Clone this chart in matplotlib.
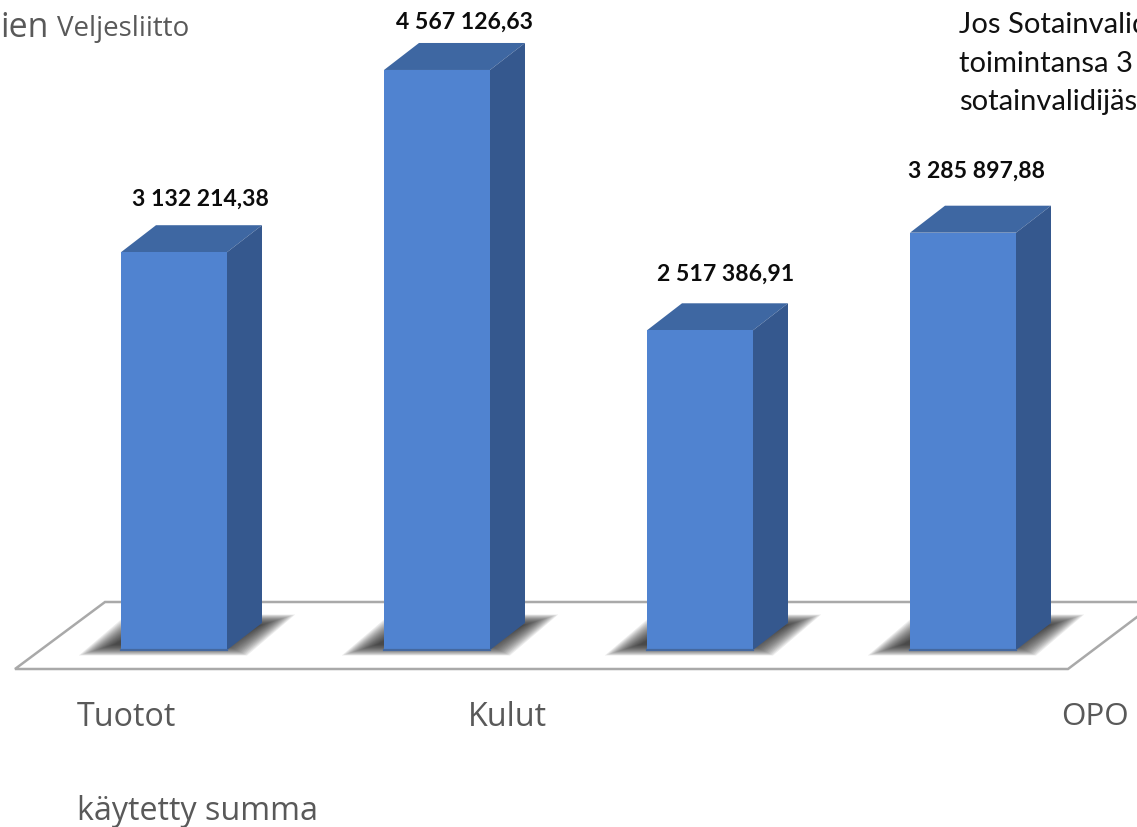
import matplotlib
matplotlib.use("Agg")
import matplotlib.pyplot as plt
from matplotlib.patches import Polygon

# --- data ---
bar_values = [3132214.38, 4567126.63, 2517386.91, 3285897.88]
value_labels = ["3 132 214,38", "4 567 126,63", "2 517 386,91", "3 285 897,88"]
axis_labels = ["Tuotot", "Kulut", "OPO"]
footer_label = "käytetty summa"
title_large = "ien"
title_small = "Veljesliitto"
note_lines = ["Jos Sotainvalid", "toimintansa 3", "sotainvalidijäs"]

# --- layout (pixels of the 1137x827 canvas) ---
W, H = 1137, 827
BASE_PX, PX_PER_VALUE = 650.0, 127.0e-6
FIRST_PX, STEP_PX, BAR_PX = 174.0, 263.0, 106.0
DX_PX, DY_PX = 35.0, 27.0
label_dx_px = [26, 27, 26, 13]
label_gap_px = [26, 21, 29, 34]

fig = plt.figure(figsize=(W / 100, H / 100), dpi=100, facecolor="white")
ax = fig.add_axes([0, 0, 1, 1])
ax.set_xlim(-FIRST_PX / STEP_PX, (W - FIRST_PX) / STEP_PX)
ax.set_ylim((BASE_PX - H) / PX_PER_VALUE, BASE_PX / PX_PER_VALUE)
ax.axis("off")

ux = 1.0 / STEP_PX            # one pixel in x data units
uy = 1.0 / PX_PER_VALUE       # one pixel in y data units
bar_w = BAR_PX * ux
dx, dy = DX_PX * ux, DY_PX * uy


def pt(i, off_x, off_y, v=0.0):
    """Point relative to bar i's base centre, offset in pixels (y upward)."""
    return (i + off_x * ux, v + off_y * uy)


# floor outline
fx = lambda p: (p - FIRST_PX) / STEP_PX
fy = lambda p: (BASE_PX - p) / PX_PER_VALUE
ax.plot([fx(1137), fx(105), fx(15), fx(1068), fx(1137)],
        [fy(602), fy(602), fy(669), fy(669), fy(617)],
        color="#a9a9a9", lw=1.8, solid_joinstyle="miter", zorder=1)

for i, (v, lab) in enumerate(zip(bar_values, value_labels)):
    # soft shadow on the floor: stacked translucent parallelograms
    layers = 20
    for k in range(layers):
        g = 7 - 22 * k / (layers - 1)
        shadow = [pt(i, -84 - g * 1.6, -2 - g * 0.5),
                  pt(i, 66 + g, -2 - g * 0.5),
                  pt(i, 110 + g * 1.6, 32 + g * 0.5),
                  pt(i, -40 - g, 32 + g * 0.5)]
        ax.add_patch(Polygon(shadow, closed=True, fc="#2a2a2a", ec="none",
                             alpha=0.085, zorder=2))
    # front face
    ax.bar(i, v, width=bar_w, color="#5083d0", edgecolor="none", zorder=5)
    l, r = i - bar_w / 2, i + bar_w / 2
    # darker bottom edge
    ax.plot([l, r], [0, 0], color="#44689f", lw=1.6, zorder=6)
    # top face
    ax.add_patch(Polygon([(l, v), (r, v), (r + dx, v + dy), (l + dx, v + dy)],
                         closed=True, fc="#3e67a2", ec="none", zorder=4))
    # side face
    ax.add_patch(Polygon([(r, 0), (r + dx, dy), (r + dx, v + dy), (r, v)],
                         closed=True, fc="#35588e", ec="none", zorder=4))
    # value label
    ax.text(i + label_dx_px[i] * ux, v + (DY_PX + label_gap_px[i]) * uy, lab,
            family="Lato", weight="bold", fontsize=16.6, color="#0c0c0c",
            ha="center", va="center", zorder=7)


def ptext(x, y, s, size, color, family="Open Sans", **kw):
    fig.text(x / W, 1 - y / H, s, fontsize=size, color=color, family=family,
             va="center", ha="left", **kw)


grey = "#595959"
ptext(77, 717, axis_labels[0], 23.2, grey)
ptext(468, 717, axis_labels[1], 23.2, grey)
ptext(1061, 717, axis_labels[2], 22.6, grey)
ptext(77, 811, footer_label, 23.2, grey)
ptext(0, 28, title_large, 24.5, grey)
ptext(57, 29, title_small, 20, grey)
for y, line in zip([25, 64, 102], note_lines):
    ptext(959, y, line, 21, "#111111", family="Lato")

fig.savefig("out.png", dpi=100, facecolor="white")
